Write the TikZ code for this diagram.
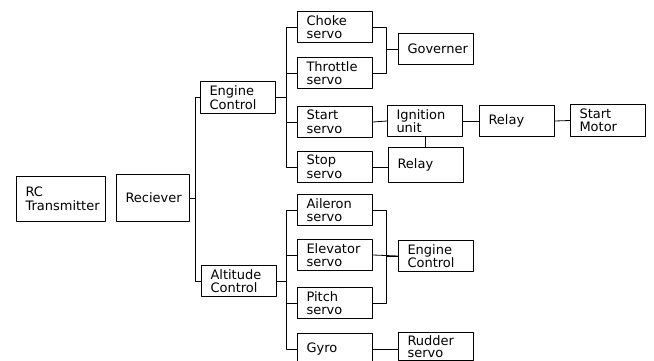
\documentclass[tikz,border=0pt]{standalone}
\usepackage{fontspec}
\setsansfont{DejaVu Sans}
\begin{document}
\begin{tikzpicture}[x=1pt,y=-1pt,line join=round,
  blk/.style={draw,line width=1pt,anchor=north west,text width=57pt,inner xsep=9pt,inner ysep=0pt,
    minimum height=31pt,align=left,font=\sffamily\fontsize{13}{13.5}\selectfont},
  wire/.style={line width=0.8pt}]
  \useasboundingbox (0,0) rectangle (654,361);
  \node[blk,text width=71pt,minimum height=45pt] (tx) at (16,176) {RC\\Transmitter};
  \node[blk,text width=55pt,minimum height=47pt] (rcv) at (116,174) {Reciever};
  \node[blk,minimum height=32pt] (eng) at (200,81) {Engine\\Control};
  \node[blk] (alt) at (201,265) {Altitude\\Control};
  \node[blk] (choke) at (297,11) {Choke\\servo};
  \node[blk] (thr) at (297,57) {Throttle\\servo};
  \node[blk] (start) at (297,106) {Start\\servo};
  \node[blk] (stop) at (297,151) {Stop\\servo};
  \node[blk] (gov) at (398,33) {Governer};
  \node[blk] (ign) at (387,105) {Ignition\\unit};
  \node[blk] (relA) at (479,105) {Relay};
  \node[blk,minimum height=32pt] (mot) at (570,104) {Start\\Motor};
  \node[blk,minimum height=35pt] (relB) at (388,147) {Relay};
  \node[blk] (ail) at (297,194) {Aileron\\servo};
  \node[blk] (elev) at (297,239) {Elevator\\servo};
  \node[blk] (pitch) at (297,287) {Pitch\\servo};
  \node[blk] (gyro) at (297,333) {Gyro};
  \node[blk] (ctl) at (398,240) {Engine\\Control};
  \node[blk,font=\sffamily\fontsize{13}{12}\selectfont,minimum height=28pt] (rud) at (398,332) {Rudder\\servo};
  \draw[wire] (eng.west) -- ++(-5,0) |- (rcv.east);
  \draw[wire] (alt.west) -- ++(-6,0) |- (rcv.east);
  \foreach \s in {choke,thr,start,stop}
    \draw[wire] (\s.west) -- ++(-11,0) |- (eng.east);
  \foreach \s in {ail,elev,pitch,gyro}
    \draw[wire] (\s.west) -- ++(-11,0) |- (alt.east);
  \draw[wire] (choke.east) -- ++(13,0) |- (gov.west);
  \draw[wire] (thr.east) -- ++(13,0) |- (gov.west);
  \draw[wire] (start.east) -- (ign.west);
  \draw[wire] (ign.east) -- (relA.west);
  \draw[wire] (relA.east) -- (mot.west);
  \draw[wire] (ign.south) -- (ign.south |- relB.north);
  \draw[wire] (stop.east) -- (stop.east -| relB.west);
  \draw[wire] (ail.east) -- ++(13,0) |- (ctl.west);
  \draw[wire] (pitch.east) -- ++(13,0) |- (ctl.west);
  \draw[wire] (elev.east) -- (ctl.west);
  \draw[wire] (gyro.east) -- (gyro.east -| rud.west);
\end{tikzpicture}
\end{document}
